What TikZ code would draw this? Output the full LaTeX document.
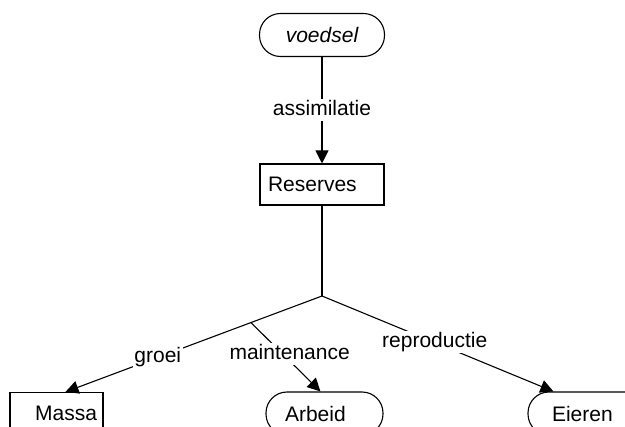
\documentclass[tikz,border=0pt]{standalone}
\usepackage{fontspec}
\setmainfont{Liberation Sans}
\usetikzlibrary{arrows.meta,calc}
\begin{document}
\begin{tikzpicture}[x=1pt,y=-1pt,
  every node/.style={font=\fontsize{21}{24}\selectfont},
  conn/.style={draw, line width=1.1pt},
  arr/.style={conn, -{Triangle[length=13pt,width=13pt]}},
  lbl/.style={fill=white, inner sep=1.5pt, text height=15pt, text depth=4pt},
  pill/.style={draw, line width=1.1pt, rounded corners=21pt, minimum height=43pt, inner ysep=0pt},
  boxnode/.style={draw, line width=1.1pt, minimum height=41pt, inner ysep=0pt}]
\useasboundingbox (0,0) rectangle (625,427);
\clip (0,0) rectangle (625,427);
% nodes
\node[pill, text width=81pt, inner xsep=22pt, align=center,
      font=\fontsize{21}{24}\selectfont\itshape] (voedsel) at (322,35) {voedsel};
\node[boxnode, text width=108pt, inner xsep=8pt, align=left] (reserves) at (322,184.5) {Reserves};
\node[boxnode, text width=81pt, inner xsep=6pt, align=right] (massa) at (56.5,413) {Massa};
\node[pill, text width=79pt, inner xsep=19pt, align=left] (arbeid) at (324.5,413.5) {Arbeid};
\node[pill, text width=72pt, inner xsep=24pt, align=left] (eieren) at (588,413.5) {Eieren};
% connection points
\coordinate (junc) at (322,296);
\coordinate (mtip) at ($(massa.north west)+(56,0)$);
\coordinate (atip) at ($(arbeid.north west)+(55,0)$);
\coordinate (etip) at ($(eieren.north west)+(26,0)$);
\coordinate (mstart) at ($(junc)!0.277!(mtip)$);
% connectors
\draw[arr] (voedsel) -- node[lbl] (assim) {assimilatie} (reserves);
\draw[conn] (reserves) -- (junc);
\draw[arr] (mstart) -- node[lbl, pos=0.557, yshift=6.5pt] (maint) {maintenance} (atip);
\draw[arr] (junc) -- node[lbl, pos=0.64] (groei) {groei} (mtip);
\draw[arr] (junc) -- node[lbl, pos=0.487] (repro) {reproductie} (etip);
\end{tikzpicture}
\end{document}
